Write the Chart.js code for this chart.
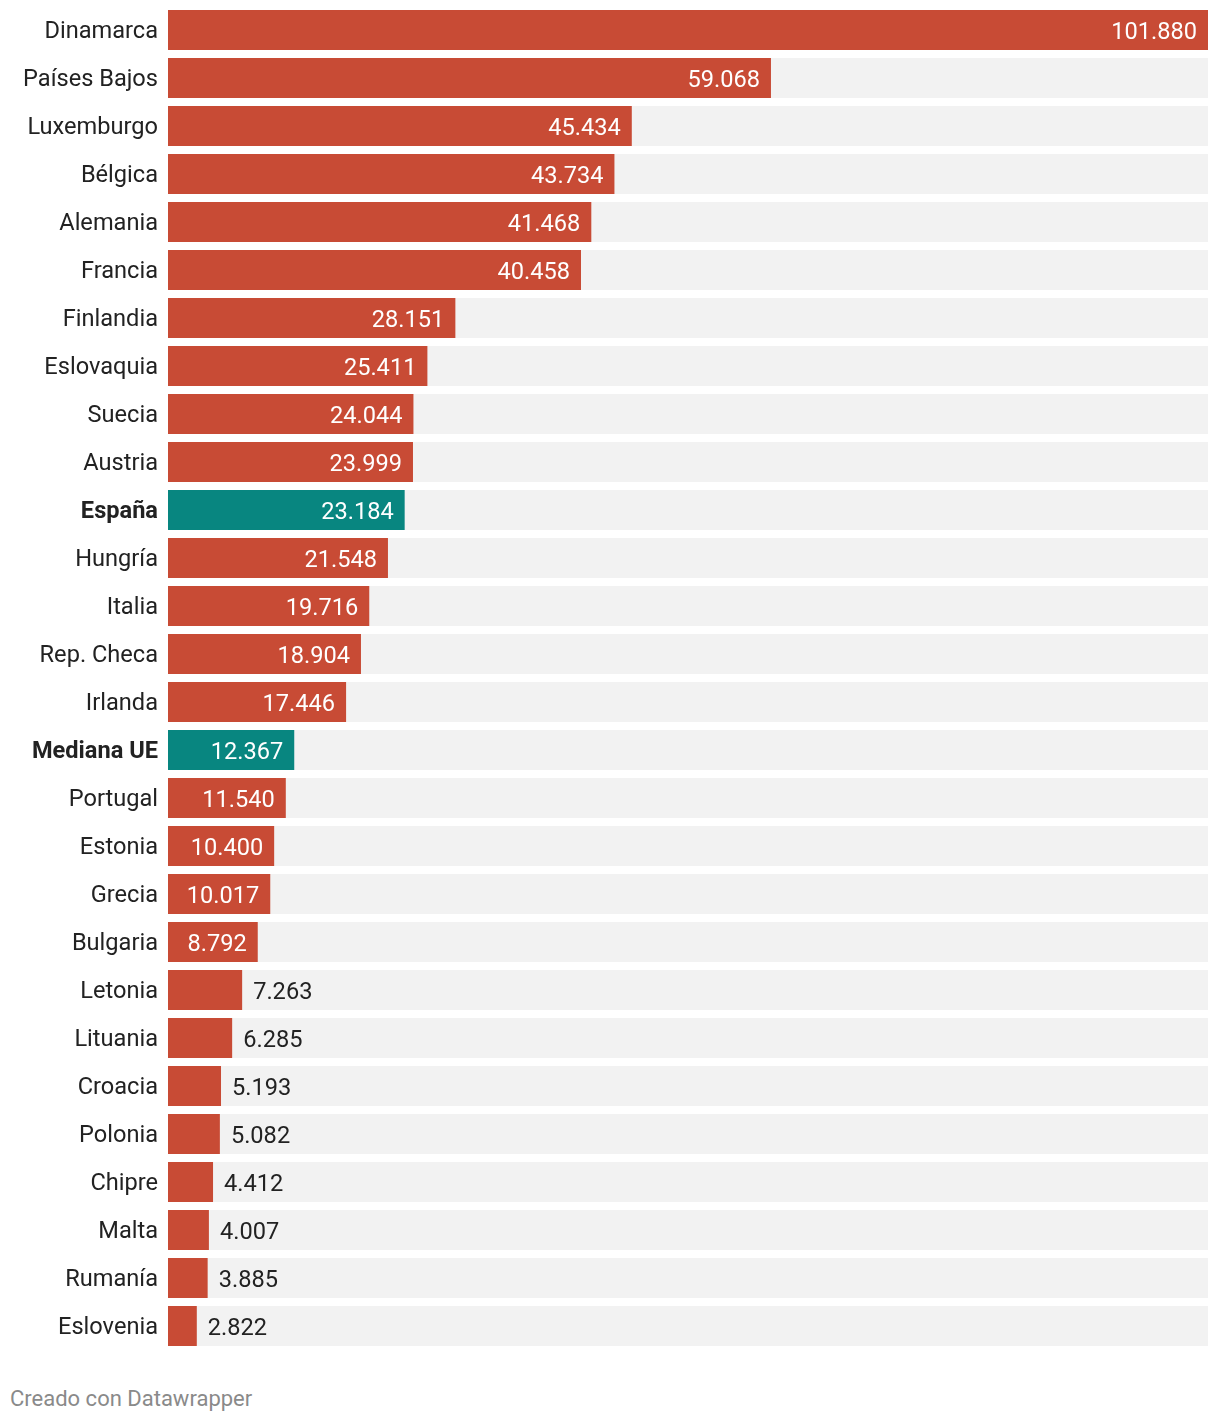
<!DOCTYPE html>
<html>
<head>
<meta charset="utf-8">
<script src="https://cdn.jsdelivr.net/npm/chart.js@4/dist/chart.umd.min.js"></script>
<style>
  body { margin: 0; background: #fff; font-family: Roboto, sans-serif; }
  #wrap { position: relative; width: 1220px; height: 1360px; }
  #footer { position: absolute; left: 10px; top: 1385px; font-size: 22px; line-height: 28px; color: #8a8a8a; }
</style>
</head>
<body>
<div id="wrap"><canvas id="myChart"></canvas></div>
<div id="footer">Creado con Datawrapper</div>
<script>
const countries = ['Dinamarca', 'Países Bajos', 'Luxemburgo', 'Bélgica', 'Alemania', 'Francia', 'Finlandia',
  'Eslovaquia', 'Suecia', 'Austria', 'España', 'Hungría', 'Italia', 'Rep. Checa', 'Irlanda', 'Mediana UE',
  'Portugal', 'Estonia', 'Grecia', 'Bulgaria', 'Letonia', 'Lituania', 'Croacia', 'Polonia', 'Chipre',
  'Malta', 'Rumanía', 'Eslovenia']
const values = [101880, 59068, 45434, 43734, 41468, 40458, 28151, 25411, 24044, 23999, 23184, 21548,
  19716, 18904, 17446, 12367, 11540, 10400, 10017, 8792, 7263, 6285, 5193, 5082, 4412, 4007, 3885, 2822]
const highlighted = ['España', 'Mediana UE']

const xMax = 101880
const red = '#c84b35'
const teal = '#088680'

function fmt(v){
    return String(v).replace(/\B(?=(\d{3})+(?!\d))/g, '.')
}

const valueLabels = {
    id: 'valueLabels',
    afterDatasetsDraw(chart){
        const ctx = chart.ctx
        const meta = chart.getDatasetMeta(0)
        ctx.save()
        ctx.font = '400 23.6px Roboto'
        ctx.textBaseline = 'middle'
        meta.data.forEach((bar, i) => {
            const text = fmt(values[i])
            const w = ctx.measureText(text).width
            const barW = bar.x - bar.base
            if(w + 22 < barW){
                ctx.fillStyle = '#ffffff'
                ctx.textAlign = 'right'
                ctx.fillText(text, bar.x - 11, bar.y + 3)
            }else{
                ctx.fillStyle = '#222222'
                ctx.textAlign = 'left'
                ctx.fillText(text, bar.x + 11, bar.y + 3)
            }
        })
        ctx.restore()
    }
}

const ctx = document.getElementById('myChart').getContext('2d')
const myChart = new Chart(ctx, {
    type: 'bar',
    data: {
        labels: countries,
        datasets: [{
            data: values,
            backgroundColor: countries.map(c => highlighted.includes(c) ? teal : red),
            grouped: false,
            categoryPercentage: 40 / 48,
            barPercentage: 1
        }, {
            data: countries.map(() => xMax),
            backgroundColor: '#f2f2f2',
            grouped: false,
            categoryPercentage: 40 / 48,
            barPercentage: 1
        }]
    },
    options: {
        indexAxis: 'y',
        responsive: true,
        maintainAspectRatio: false,
        animation: false,
        layout: { padding: { top: 6, right: 12, bottom: 10, left: 0 } },
        plugins: {
            legend: { display: false },
            tooltip: { enabled: false }
        },
        scales: {
            x: {
                display: false,
                min: 0,
                max: xMax
            },
            y: {
                afterFit(scale){
                    scale.width = 168
                    scale.paddingTop = 0
                    scale.paddingBottom = 0
                },
                grid: { display: false, drawTicks: false },
                border: { display: false },
                ticks: {
                    padding: 10,
                    labelOffset: 2,
                    color: '#222222',
                    font: c => ({
                        family: 'Roboto',
                        size: 23.6,
                        weight: highlighted.includes(countries[c.index]) ? 'bold' : 'normal'
                    })
                }
            }
        }
    },
    plugins: [valueLabels]
})
</script>
</body>
</html>
